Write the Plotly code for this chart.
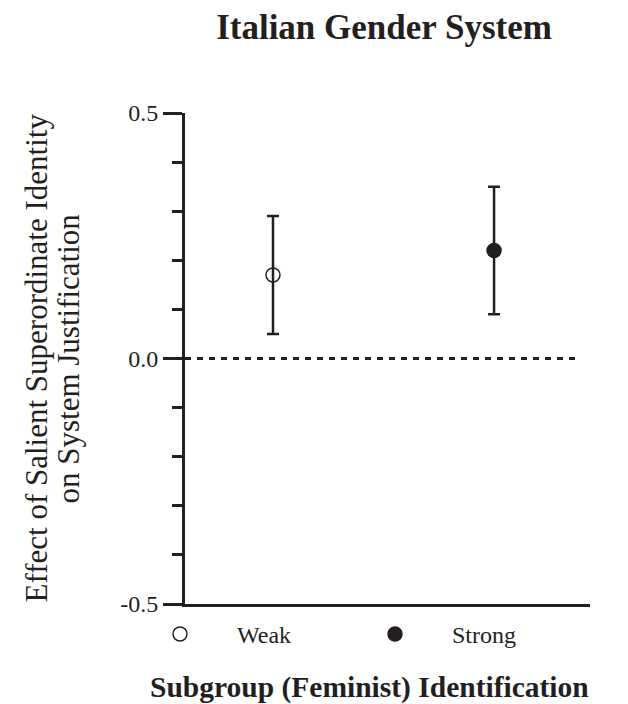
import plotly.graph_objects as go

# ---- data ----
categories = ["Weak", "Strong"]
effects = [0.17, 0.22]
ci_low = [0.05, 0.09]
ci_high = [0.29, 0.35]
symbols = ["circle-open", "circle"]
y_tick_vals = [-0.5, 0.0, 0.5]
y_tick_text = ["-0.5", "0.0", "0.5"]
y_title_lines = ["Effect of Salient Superordinate Identity", "on System Justification"]

INK = "#231f20"
FONT = "Liberation Serif"

fig = go.Figure()
for i, cat in enumerate(categories):
    fig.add_trace(go.Scatter(
        x=[cat], y=[effects[i]], name=cat, mode="markers",
        marker=dict(symbol=symbols[i], size=14, color=INK,
                    line=dict(color=INK, width=1.5)),
        error_y=dict(type="data", symmetric=False,
                     array=[ci_high[i] - effects[i]],
                     arrayminus=[effects[i] - ci_low[i]],
                     color=INK, thickness=2.5, width=6),
        cliponaxis=False,
    ))

fig.add_shape(type="line", xref="paper", x0=0, x1=0.97, yref="y", y0=0, y1=0,
              line=dict(color=INK, width=3, dash="6px,6px"))

annotations = []
for j, (line_text, px) in enumerate(zip(y_title_lines, [36, 68])):
    annotations.append(dict(
        text=line_text, xref="paper", yref="paper", x=(px - 185) / 405, y=0.5,
        textangle=-90, showarrow=False, xanchor="center", yanchor="middle",
        font=dict(size=31, family=FONT, color=INK)))
annotations.append(dict(
    text="<b>Subgroup (Feminist) Identification</b>",
    xref="paper", yref="paper", x=(369 - 185) / 405, y=(604 - 687) / 491,
    showarrow=False, xanchor="center", yanchor="middle",
    font=dict(size=29.5, family=FONT, color=INK)))

fig.update_layout(
    width=628, height=704,
    margin=dict(l=185, r=38, t=113, b=100),
    paper_bgcolor="white", plot_bgcolor="white",
    font=dict(family=FONT, color=INK, size=24),
    title=dict(text="<b>Italian Gender System</b>", x=(384 - 185) / 405, xref="paper",
               y=1 - 27 / 704, yref="container", xanchor="center", yanchor="middle",
               font=dict(size=35, family=FONT, color=INK)),
    showlegend=True,
    legend=dict(orientation="h", x=(180 - 57 - 185) / 405, xanchor="left",
                y=-0.016, yanchor="top", itemwidth=104, entrywidth=96,
                font=dict(size=24, family=FONT, color=INK),
                bgcolor="rgba(0,0,0,0)"),
    xaxis=dict(type="category", categoryorder="array", categoryarray=categories,
               range=[-0.398, 1.434], showgrid=False, zeroline=False,
               showline=True, linecolor=INK, linewidth=3,
               showticklabels=False, ticks=""),
    yaxis=dict(range=[-0.5, 0.5], showgrid=False, zeroline=False,
               showline=True, linecolor=INK, linewidth=3,
               tickmode="array", tickvals=y_tick_vals, ticktext=y_tick_text,
               ticks="outside", ticklen=19, tickwidth=3, tickcolor=INK,
               tickfont=dict(size=24, family=FONT, color=INK),
               minor=dict(dtick=0.1, ticks="outside", ticklen=10, tickwidth=3,
                          tickcolor=INK, showgrid=False)),
    annotations=annotations,
)

fig.write_html("out.html", config={"displayModeBar": False},
               post_script="document.body.style.margin='0';")
